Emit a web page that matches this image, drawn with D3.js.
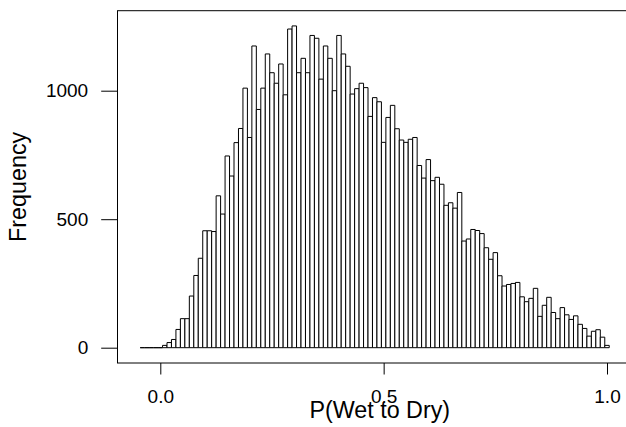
<!DOCTYPE html>
<html>
<head>
<meta charset="utf-8" />
<title>histogram</title>
<script src="https://d3js.org/d3.v7.min.js"></script>
<style>
body { margin: 0; background: #fff; }
text { font-family: "Liberation Sans", Arial, sans-serif; fill: #000; }
.bar { fill: #fff; stroke: #000; stroke-width: 1; }
</style>
</head>
<body>
<div id="viz"></div>
<script>

// histogram counts, bins of width 0.01 starting at -0.045
var binStart = -0.045,
    binWidth = 0.01;
var counts = [
  0, 0, 0, 0, 0,
  9, 20, 32, 71, 113, 113, 201, 281, 348, 455,
  455, 452, 591, 520, 746, 668, 798, 853, 1010, 818,
  1174, 927, 1010, 1143, 1070, 1029, 1104, 984, 1240, 1252,
  1070, 1126, 1070, 1215, 1204, 1045, 1174, 1126, 1000, 1215,
  1143, 1095, 987, 1008, 1029, 1012, 900, 973, 957, 799,
  896, 943, 852, 808, 799, 811, 818, 709, 660, 732,
  650, 663, 636, 554, 564, 543, 604, 415, 423, 460,
  456, 444, 389, 344, 370, 280, 240, 246, 250, 254,
  198, 179, 192, 231, 122, 165, 196, 137, 113, 156,
  128, 110, 124, 91, 75, 45, 64, 70, 41, 9
];
var xTicks = [0, 0.5, 1],
    xTickLabels = ["0.0", "0.5", "1.0"];
var yTicks = [0, 500, 1000],
    yTickLabels = ["0", "500", "1000"];
var xTitle = "P(Wet to Dry)",
    yTitle = "Frequency";

var width = 626, height = 427;
var box = {left: 117.5, top: 10.7, right: 642, bottom: 363};

var svg = d3.select("#viz").append("svg")
    .attr("width", width)
    .attr("height", height);

var x = d3.scaleLinear().domain([0, 1]).range([160.3, 607]),
    y = d3.scaleLinear().domain([0, 1000]).range([347.7, 90.7]);

var bins = counts.map(function(c, i) {
  return {x0: binStart + i * binWidth, x1: binStart + (i + 1) * binWidth, n: c};
});

// bars as paths so that empty bins still show as a line on zero
svg.selectAll(".bar")
  .data(bins)
  .enter().append("path")
    .attr("class", "bar")
    .attr("d", function(d) {
      return "M" + x(d.x0) + "," + y(0) + "V" + y(d.n) +
             "H" + x(d.x1) + "V" + y(0) + "Z";
    });

// plot box
svg.append("rect")
    .attr("x", box.left)
    .attr("y", box.top)
    .attr("width", box.right - box.left)
    .attr("height", box.bottom - box.top)
    .attr("fill", "none")
    .attr("stroke", "#000")
    .attr("stroke-width", 1);

// x axis
var xAxis = d3.axisBottom(x)
    .tickValues(xTicks)
    .tickSize(11.5)
    .tickPadding(15)
    .tickFormat(function(d, i) { return xTickLabels[i]; });
var gx = svg.append("g")
    .attr("transform", "translate(0," + box.bottom + ")")
    .call(xAxis);
gx.select(".domain").remove();
gx.selectAll("text").attr("font-size", 19).attr("font-family", null);

// y axis
var yAxis = d3.axisLeft(y)
    .tickValues(yTicks)
    .tickSize(16.3)
    .tickPadding(13)
    .tickFormat(function(d, i) { return yTickLabels[i]; });
var gy = svg.append("g")
    .attr("transform", "translate(" + box.left + ",0)")
    .call(yAxis);
gy.select(".domain").remove();
gy.selectAll("text").attr("font-size", 19).attr("font-family", null);

svg.append("text")
    .attr("x", (box.left + box.right) / 2)
    .attr("y", 417.5)
    .attr("text-anchor", "middle")
    .attr("font-size", 23.3)
    .text(xTitle);

svg.append("text")
    .attr("transform", "translate(25.5," + (box.top + box.bottom) / 2 + ") rotate(-90)")
    .attr("text-anchor", "middle")
    .attr("font-size", 23.3)
    .text(yTitle);

</script>
</body>
</html>
